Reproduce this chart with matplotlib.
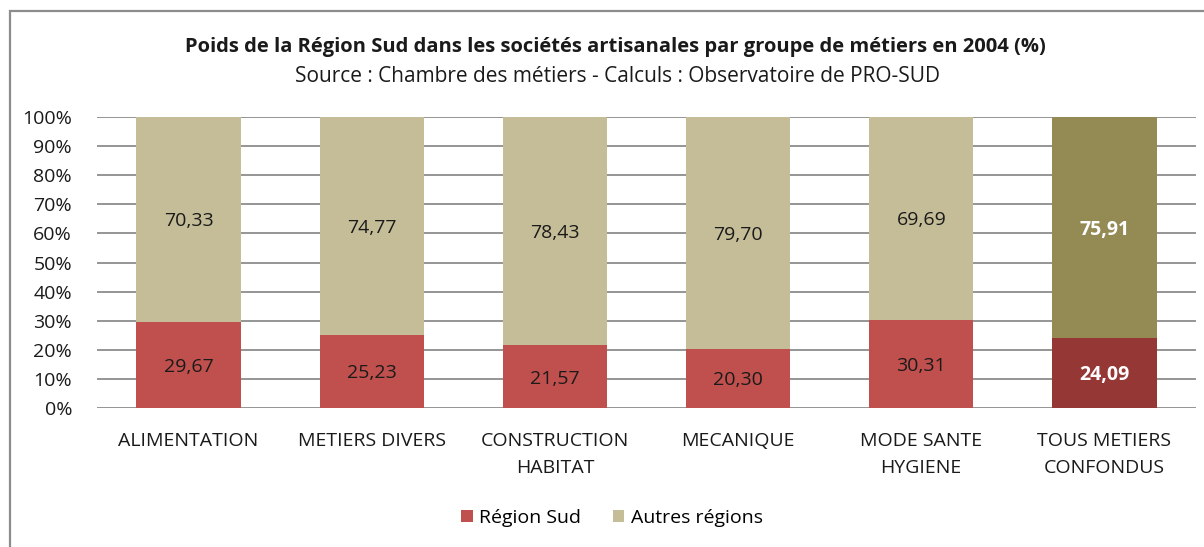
import matplotlib
matplotlib.use("Agg")
import matplotlib.pyplot as plt
from matplotlib.patches import Rectangle, Patch
import numpy as np

plt.rcParams['font.family'] = ['Open Sans', 'DejaVu Sans']

categories = ["ALIMENTATION", "METIERS DIVERS", "CONSTRUCTION\nHABITAT", "MECANIQUE",
              "MODE SANTE\nHYGIENE", "TOUS METIERS\nCONFONDUS"]
region_sud = [29.67, 25.23, 21.57, 20.30, 30.31, 24.09]
autres_regions = [70.33, 74.77, 78.43, 79.70, 69.69, 75.91]
series_names = ["Région Sud", "Autres régions"]

W, H = 1204, 547
fig = plt.figure(figsize=(W / 100, H / 100), dpi=100)
fig.patch.set_facecolor("white")

# outer frame (right and bottom edges lie outside the image)
fig.add_artist(Rectangle((9.5 / W, -10 / H), (W + 20) / W, (H - 10.5 + 10) / H,
                         transform=fig.transFigure, fill=False,
                         edgecolor="#8c8c8c", linewidth=1.6))

ax = fig.add_axes([97 / W, (H - 408) / H, (1196 - 97) / W, (408 - 117) / H])
x = np.arange(len(categories))
bw = 0.57
red = ["#C0504D"] * 5 + ["#953735"]
tan = ["#C4BD97"] * 5 + ["#948A54"]
ax.bar(x, region_sud, width=bw, color=red, zorder=2)
ax.bar(x, autres_regions, bottom=region_sud, width=bw, color=tan, zorder=2)

fs = 14
for i in range(len(categories)):
    last = i == len(categories) - 1
    col = "white" if last else "#1a1a1a"
    fw = "bold" if last else "normal"
    ax.text(x[i], region_sud[i] / 2, f"{region_sud[i]:.2f}".replace(".", ","),
            ha="center", va="center_baseline", fontsize=fs, color=col, fontweight=fw, zorder=3)
    ax.text(x[i], region_sud[i] + autres_regions[i] / 2,
            f"{autres_regions[i]:.2f}".replace(".", ","),
            ha="center", va="center_baseline", fontsize=fs, color=col, fontweight=fw, zorder=3)

ax.set_xlim(-0.5, len(categories) - 0.5)
ax.set_ylim(0, 100)
ax.set_yticks(np.arange(0, 101, 10))
ax.set_yticklabels([f"{v}%" for v in range(0, 101, 10)], fontsize=fs, color="#1a1a1a")
ax.set_xticks(x)
ax.set_xticklabels(categories, fontsize=fs, color="#1a1a1a", linespacing=1.7)
ax.tick_params(axis="both", length=0)
ax.tick_params(axis="y", pad=18)
ax.tick_params(axis="x", pad=17)
ax.yaxis.grid(True, color="#8c8c8c", linewidth=1.3, zorder=0)
ax.set_axisbelow(True)
for s in ax.spines.values():
    s.set_visible(False)

fig.text(615 / W, 1 - 47 / H,
         "Poids de la Région Sud dans les sociétés artisanales par groupe de métiers en 2004 (%)",
         ha="center", va="center", fontsize=14.5, fontweight="bold", color="#1a1a1a")
fig.text(617 / W, 1 - 77 / H,
         "Source : Chambre des métiers - Calculs : Observatoire de PRO-SUD",
         ha="center", va="center", fontsize=15, color="#1a1a1a")

handles = [Patch(facecolor="#C0504D"), Patch(facecolor="#C4BD97")]
fig.legend(handles, series_names, loc="center", bbox_to_anchor=(612 / W, 1 - 518 / H),
           ncol=2, frameon=False, fontsize=fs, handlelength=0.6, handleheight=0.6,
           handletextpad=0.35, columnspacing=1.6)

fig.savefig("out.png", dpi=100, facecolor="white")
